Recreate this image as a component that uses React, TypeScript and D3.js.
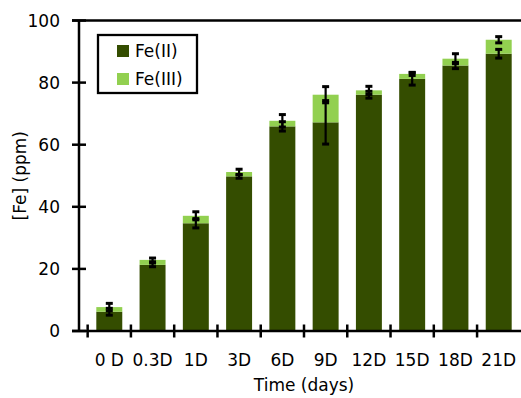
import { useEffect, useRef } from "react";
import * as d3 from "d3";

const categories = ["0 D", "0.3D", "1D", "3D", "6D", "9D", "12D", "15D", "18D", "21D"];
const fe2 = [6.2, 21.3, 34.7, 49.8, 65.9, 67.2, 76.1, 81.2, 85.5, 89.3];
const fe3 = [1.5, 1.6, 2.4, 1.4, 1.8, 8.9, 1.4, 1.6, 2.2, 4.5];
const fe2Err = [1.1, 0.6, 1.5, 0.6, 1.5, 7.0, 1.1, 2.0, 1.0, 1.4];
const totalErr = [1.2, 0.6, 1.3, 0.9, 2.0, 2.6, 1.3, 0.5, 1.6, 1.0];
const yTicks = [0, 20, 40, 60, 80, 100];
const seriesNames = ["Fe(II)", "Fe(III)"];

const DARK = "#344d00";
const LIGHT = "#92d050";
const FONT = "DejaVu Sans, sans-serif";

export default function App() {
  const svgRef = useRef<SVGSVGElement>(null);
  const width = 521;
  const height = 398;

  useEffect(() => {
    const svg = d3.select(svgRef.current);
    svg.selectAll("*").remove();

    // plot runs past the right edge, like the original crop
    const x = d3.scaleBand().domain(categories).range([79, 529]).padding(0.4);
    const y = d3.scaleLinear().domain([0, 100]).range([331, 20.5]);

    const rows = categories.map((c, i) => ({
      cat: c,
      fe2: fe2[i],
      total: fe2[i] + fe3[i],
      e2: fe2Err[i],
      et: totalErr[i],
    }));

    // stacked bars
    svg
      .selectAll(".bar2")
      .data(rows)
      .enter()
      .append("rect")
      .attr("x", (d) => x(d.cat)!)
      .attr("y", (d) => y(d.fe2))
      .attr("width", x.bandwidth())
      .attr("height", (d) => y(0) - y(d.fe2))
      .attr("fill", DARK);

    svg
      .selectAll(".bar3")
      .data(rows)
      .enter()
      .append("rect")
      .attr("x", (d) => x(d.cat)!)
      .attr("y", (d) => y(d.total))
      .attr("width", x.bandwidth())
      .attr("height", (d) => y(d.fe2) - y(d.total))
      .attr("fill", LIGHT);

    // error bars, one at each stack top
    const errs = rows.flatMap((d) => [
      { cat: d.cat, v: d.fe2, e: d.e2 },
      { cat: d.cat, v: d.total, e: d.et },
    ]);
    const eg = svg.append("g").attr("stroke", "#000");
    errs.forEach((d) => {
      const cx = x(d.cat)! + x.bandwidth() / 2;
      const y1 = y(d.v + d.e);
      const y2 = y(d.v - d.e);
      eg.append("line").attr("x1", cx).attr("x2", cx).attr("y1", y1).attr("y2", y2).attr("stroke-width", 2.2);
      [y1, y2].forEach((yy) =>
        eg.append("line").attr("x1", cx - 3.5).attr("x2", cx + 3.5).attr("y1", yy).attr("y2", yy).attr("stroke-width", 3)
      );
    });

    // axes
    const ax = svg.append("g").attr("stroke", "#000").attr("stroke-width", 2.5);
    ax.append("line").attr("x1", 79).attr("x2", 79).attr("y1", y(100)).attr("y2", y(0));
    ax.append("line").attr("x1", 72).attr("x2", width).attr("y1", y(0)).attr("y2", y(0));
    ax.append("line").attr("x1", 72).attr("x2", width).attr("y1", y(100)).attr("y2", y(100));
    yTicks.forEach((t) => {
      ax.append("line").attr("x1", 72).attr("x2", 86).attr("y1", y(t)).attr("y2", y(t));
    });
    categories.forEach((c) => {
      const xx = x(c)! - (x.step() * x.paddingInner()) / 2;
      ax.append("line").attr("x1", xx).attr("x2", xx).attr("y1", y(0) - 6.5).attr("y2", y(0) + 6.5);
    });

    const txt = svg.append("g").attr("font-family", FONT).attr("font-size", 17).attr("fill", "#000");
    yTicks.forEach((t) => {
      txt
        .append("text")
        .attr("x", 60)
        .attr("y", y(t))
        .attr("dy", "0.36em")
        .attr("text-anchor", "end")
        .text(t);
    });
    categories.forEach((c) => {
      txt
        .append("text")
        .attr("x", x(c)! + x.bandwidth() / 2)
        .attr("y", 366)
        .attr("text-anchor", "middle")
        .text(c);
    });
    txt.append("text").attr("x", 304).attr("y", 391).attr("text-anchor", "middle").text("Time (days)");
    txt
      .append("text")
      .attr("transform", `translate(26,${(y(0) + y(100)) / 2}) rotate(-90)`)
      .attr("text-anchor", "middle")
      .text("[Fe] (ppm)");

    // legend
    const lg = svg.append("g");
    lg.append("rect")
      .attr("x", 98)
      .attr("y", 35)
      .attr("width", 99)
      .attr("height", 58)
      .attr("fill", "#fff")
      .attr("stroke", "#000")
      .attr("stroke-width", 2.3);
    seriesNames.forEach((name, i) => {
      lg.append("rect")
        .attr("x", 117)
        .attr("y", 45 + i * 28)
        .attr("width", 12)
        .attr("height", 12)
        .attr("fill", i === 0 ? DARK : LIGHT);
      lg.append("text")
        .attr("x", 135)
        .attr("y", 56.5 + i * 28)
        .attr("font-family", FONT)
        .attr("font-size", 17)
        .text(name);
    });
  }, []);

  return (
    <svg
      ref={svgRef}
      width={width}
      height={height}
      style={{ position: "absolute", left: 0, top: 0, background: "#fff" }}
    ></svg>
  );
}
